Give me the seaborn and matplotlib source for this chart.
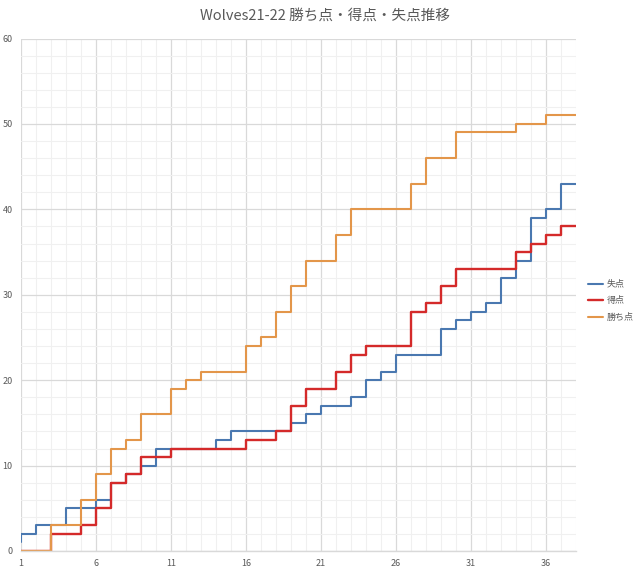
import matplotlib
matplotlib.use("Agg")
import matplotlib.pyplot as plt
import seaborn as sns
import pandas as pd
from matplotlib.ticker import MultipleLocator, FixedLocator

matches = list(range(1, 39))
goals_against = [1, 2, 3, 3, 5, 5, 6, 8, 9, 10, 12, 12, 12, 12, 13, 14, 14, 14, 14, 15,
                 16, 17, 17, 18, 20, 21, 23, 23, 23, 26, 27, 28, 29, 32, 34, 39, 40, 43]
goals_for = [0, 0, 0, 2, 2, 3, 5, 8, 9, 11, 11, 12, 12, 12, 12, 12, 13, 13, 14, 17,
             19, 19, 21, 23, 24, 24, 24, 28, 29, 31, 33, 33, 33, 33, 35, 36, 37, 38]
points = [0, 0, 0, 3, 3, 6, 9, 12, 13, 16, 16, 19, 20, 21, 21, 21, 24, 25, 28, 31,
          34, 34, 37, 40, 40, 40, 40, 43, 46, 46, 49, 49, 49, 49, 50, 50, 51, 51]
series_names = ["失点", "得点", "勝ち点"]
title = "Wolves21-22 勝ち点・得点・失点推移"
x_ticks = [1, 6, 11, 16, 21, 26, 31, 36]

colors = {"失点": "#4A78B0", "得点": "#D42A2A", "勝ち点": "#E3964A"}
widths = {"失点": 1.5, "得点": 1.7, "勝ち点": 1.5}

sns.set_theme(style="white")
plt.rcParams['font.family'] = ['Noto Sans CJK JP', 'DejaVu Sans']

fig = plt.figure(figsize=(6.4, 5.72), dpi=100)
ax = fig.add_axes([21/640, 1 - 551/572, (576 - 21)/640, (551 - 38.5)/572])

data = {"失点": goals_against, "得点": goals_for, "勝ち点": points}
for name in series_names:
    df = pd.DataFrame({"試合": matches, "値": data[name]})
    sns.lineplot(data=df, x="試合", y="値", ax=ax, color=colors[name],
                 linewidth=widths[name], drawstyle="steps-pre", label=name,
                 errorbar=None, estimator=None)

ax.set_xlim(1, 38)
ax.set_ylim(0, 60)
ax.xaxis.set_major_locator(FixedLocator(x_ticks))
ax.xaxis.set_minor_locator(MultipleLocator(1))
ax.yaxis.set_major_locator(MultipleLocator(10))
ax.yaxis.set_minor_locator(MultipleLocator(2))
ax.grid(which="major", color="#D9D9D9", linewidth=0.9)
ax.grid(which="minor", color="#F0F0F0", linewidth=0.8)
ax.set_axisbelow(True)
for s in ["top", "right", "left"]:
    ax.spines[s].set_visible(False)
ax.spines["bottom"].set_color("#D9D9D9")
ax.spines["bottom"].set_linewidth(1.0)
ax.tick_params(which="both", length=0, labelsize=6.5, labelcolor="#595959")
ax.tick_params(axis="y", pad=6)
ax.tick_params(axis="x", pad=6)
ax.set_xlabel("")
ax.set_ylabel("")

fig.text(0.508, 0.973, title, ha="center", va="center", fontsize=10.5, color="#595959")

leg = ax.legend(loc="center left", bbox_to_anchor=(1.018, 0.488), frameon=False,
                fontsize=6.5, handlelength=1.7, handletextpad=0.35, labelspacing=0.85,
                borderaxespad=0, borderpad=0.2)
for t in leg.get_texts():
    t.set_color("#595959")

fig.savefig("out.png", dpi=100)
